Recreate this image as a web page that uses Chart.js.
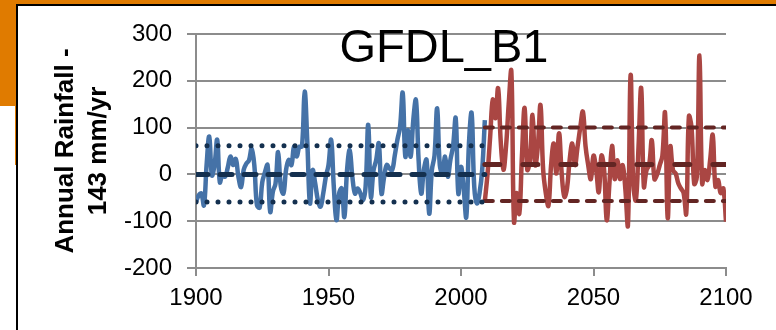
<!DOCTYPE html>
<html>
<head>
<meta charset="utf-8">
<script src="https://cdn.jsdelivr.net/npm/chart.js@4.4.1/dist/chart.umd.min.js"></script>
<style>
  html, body { margin: 0; padding: 0; background: #fff; }
  #wrap { position: relative; width: 776px; height: 330px; overflow: hidden; }
  .orange { position: absolute; background: #e07b00; }
  .frame { position: absolute; background: #000; }
  canvas { position: absolute; left: 0; top: 0; }
</style>
</head>
<body>
<div id="wrap">
  <div class="orange" style="left:0;top:0;width:776px;height:4px"></div>
  <div class="orange" style="left:0;top:0;width:16px;height:106px"></div>
  <div class="orange" style="left:15px;top:106px;width:1px;height:59px"></div>
  <div class="frame" style="left:16px;top:4px;width:760px;height:2px"></div>
  <div class="frame" style="left:16px;top:4px;width:2px;height:326px"></div>
  <canvas id="myChart" width="776" height="330"></canvas>
</div>
<script>
var chartTitle = 'GFDL_B1';
var yTitle = ['Annual Rainfall -', '143 mm/yr'];

// observed, 1900 - 2009
var histStart = 1900;
var histRain = [
  -59, -45, -41, -66, 20, 81, -2, 20, 74, -17,
  0, -5, 15, 38, 20, 33, -5, -27, 10, 23,
  30, 55, 20, -66, -71, -17, 4, 20, -80, -37,
  -20, 48, -26, -41, 10, 31, 20, 59, 38, 59,
  60, 177, 70, -62, 9, -20, -55, -69, -41, -5,
  20, 74, -26, -98, -41, -30, -91, 9, 52, -5,
  -41, -30, -40, -55, -26, 106, -48, 9, 31, 66,
  -41, -5, 20, 13, 9, 40, 74, 102, 174, 38,
  95, 38, 116, 159, 31, -41, 10, 31, -84, 9,
  40, 141, 20, 2, 38, -5, 31, 60, 120, -41,
  16, -30, -91, 66, 131, -26, -62, -40, 10, 116
];

// projected B1, 2009 - 2100
var futStart = 2009;
var futRain = [
  -57,
  0, 80, 160, 120, 184, 70, 10, 60, 150, 220,
  -101, -40, -84, 40, 142, 10, 30, 127, 20, 60,
  148, 10, -40, -67, 20, 66, 2, 88, 2, -48,
  -30, 31, 66, 20, 60, 100, 134, 60, 20, -10,
  40, 10, -38, 40, 10, -98, -20, 61, -10, 30,
  -10, 20, -30, -108, 212, -20, -55, 60, 184, -26,
  9, 20, 73, -10, 0, 20, 40, 131, -93, 59,
  9, 2, -19, -30, -40, -84, 124, 100, -20, -5,
  254, -20, 9, -12, 30, 84, -26, -12, -40, -30,
  -101
];

// mean +/- 1 sd for each period: [upper, mean, lower]
var histPeriod = [1900, 2009];
var histLines = [61, 0, -59];
var futPeriod = [2009, 2100];
var futLines = [100, 21, -57];

var xMin = 1900, xMax = 2100, xStep = 50;
var yMin = -200, yMax = 300, yStep = 100;

function toPoints(start, values) {
    var pts = [];
    for (var i = 0; i < values.length; i++) {
        pts.push({ x: start + i, y: values[i] });
    }
    return pts;
}

function flatLine(period, value) {
    return [{ x: period[0], y: value }, { x: period[1], y: value }];
}

var navy = '#14304f';
var darkRed = '#632523';

var titlePlugin = {
    id: 'chartTitle',
    afterDraw: function (chart) {
        var ctx = chart.ctx;
        ctx.save();
        ctx.font = '47px "Liberation Sans", Arial, sans-serif';
        ctx.fillStyle = '#000';
        ctx.textAlign = 'center';
        ctx.textBaseline = 'alphabetic';
        ctx.fillText(chartTitle, 444, 62);
        ctx.restore();
    }
};

var ctx = document.getElementById('myChart');
var myChart = new Chart(ctx, {
    type: 'line',
    data: {
        datasets: [
            { data: flatLine(histPeriod, histLines[1]), borderColor: navy, borderWidth: 5, borderDash: [12, 12], borderCapStyle: 'round', order: 0 },
            { data: flatLine(histPeriod, histLines[0]), borderColor: navy, borderWidth: 5, borderDash: [0, 11], borderCapStyle: 'round', order: 0 },
            { data: flatLine(histPeriod, histLines[2]), borderColor: navy, borderWidth: 5, borderDash: [0, 11], borderCapStyle: 'round', order: 0 },
            { data: flatLine(futPeriod, futLines[1]), borderColor: darkRed, borderWidth: 5, borderDash: [15, 23], borderCapStyle: 'round', order: 0 },
            { data: flatLine(futPeriod, futLines[0]), borderColor: darkRed, borderWidth: 4, borderDash: [8, 9], borderCapStyle: 'round', order: 0 },
            { data: flatLine(futPeriod, futLines[2]), borderColor: darkRed, borderWidth: 4, borderDash: [8, 9], borderCapStyle: 'round', order: 0 },
            { data: toPoints(histStart, histRain), borderColor: '#4572a7', borderWidth: 4.5, tension: 0.4, order: 1 },
            { data: toPoints(futStart, futRain), borderColor: '#aa4643', borderWidth: 4.5, tension: 0.4, order: 1 }
        ]
    },
    options: {
        responsive: false,
        animation: false,
        devicePixelRatio: 1,
        layout: { padding: { left: 0, right: 50, top: 34, bottom: 0 } },
        elements: { point: { radius: 0 }, line: { fill: false, borderJoinStyle: 'round' } },
        plugins: { legend: { display: false }, tooltip: { enabled: false } },
        scales: {
            x: {
                type: 'linear',
                min: xMin,
                max: xMax,
                afterFit: function (scale) { scale.height = 62; },
                grid: { drawOnChartArea: false, drawTicks: true, tickLength: 8, color: '#8c8c8c', lineWidth: 2 },
                border: { display: true, color: '#8c8c8c', width: 2 },
                ticks: {
                    stepSize: xStep,
                    color: '#000',
                    padding: 8,
                    maxRotation: 0,
                    autoSkip: false,
                    font: { family: '"Liberation Sans", Arial, sans-serif', size: 24 },
                    callback: function (v) { return String(v); }
                }
            },
            y: {
                min: yMin,
                max: yMax,
                afterFit: function (scale) { scale.width = 196; },
                grid: { color: '#8c8c8c', lineWidth: 2, tickLength: 9 },
                border: { display: true, color: '#8c8c8c', width: 2 },
                ticks: {
                    stepSize: yStep,
                    color: '#000',
                    padding: 15,
                    font: { family: '"Liberation Sans", Arial, sans-serif', size: 24 }
                },
                title: {
                    display: true,
                    text: yTitle,
                    color: '#000',
                    padding: { top: 50, bottom: 0 },
                    font: { family: '"Liberation Sans", Arial, sans-serif', size: 26, weight: 'bold', lineHeight: 1.25 }
                }
            }
        }
    },
    plugins: [titlePlugin]
});
</script>
</body>
</html>
